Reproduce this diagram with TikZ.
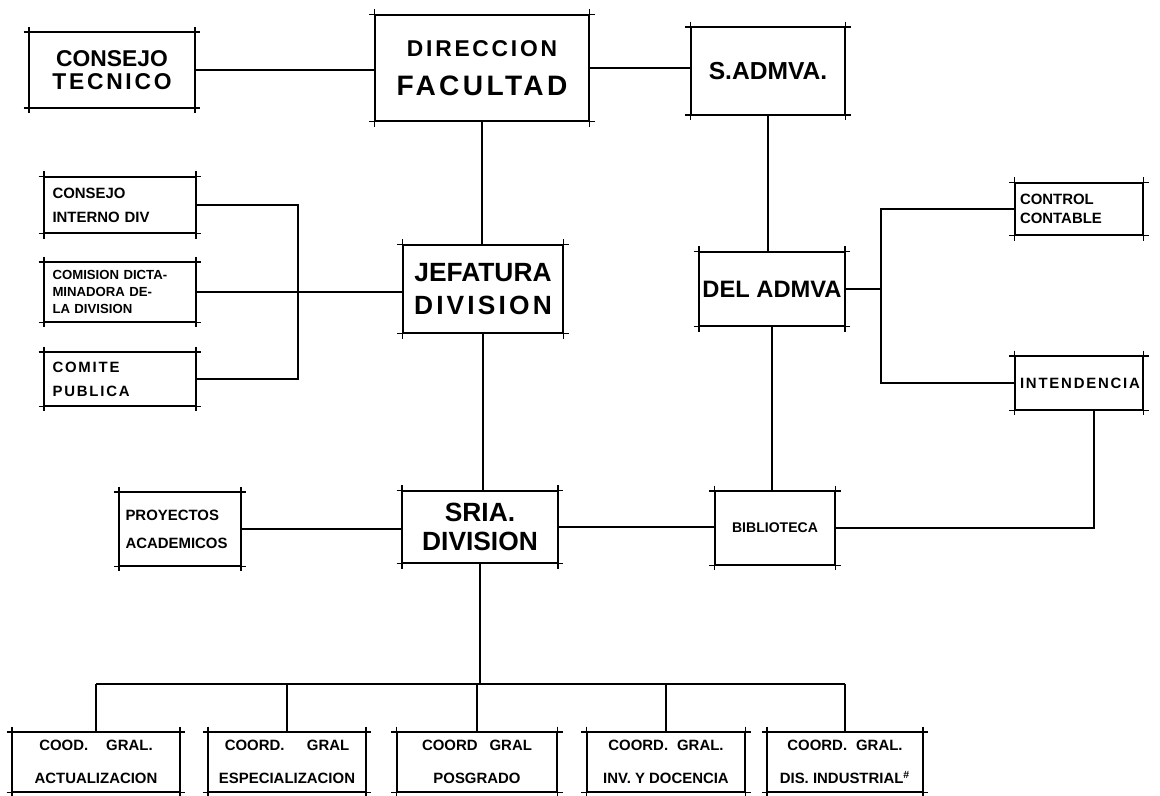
\documentclass[tikz,border=0pt]{standalone}
\usepackage{fontspec}
\setmainfont{Liberation Sans}
\newfontfamily\lett[LetterSpace=12]{Liberation Sans}
\newcommand{\lsp}[1]{{\lett\bfseries #1}}
\usetikzlibrary{calc}

\begin{document}
\begin{tikzpicture}[x=0.02cm, y=-0.02cm, line width=0.8pt,
    box/.style={draw, inner sep=0pt, align=center, font=\bfseries},
    leftbox/.style={draw, inner ysep=0pt, inner xsep=0.16cm, text width=2.7cm, align=left,
        font=\bfseries\fontsize{8.5}{13.5}\selectfont},
    lowbox/.style={draw, inner sep=0pt, align=center, minimum height=1.18cm,
        font=\bfseries\fontsize{8.5}{19}\selectfont},
    overrun/.style={shorten <=-3pt, shorten >=-3pt}]
    \useasboundingbox (0,0) rectangle (1160,795);

    % Top row
    \node[box, minimum width=3.3cm, minimum height=1.5cm, font=\bfseries\fontsize{13}{13.5}\selectfont]
        (ct) at (112,70) {CONSEJO\\\lsp{TECNICO}};
    \node[box, minimum width=4.28cm, minimum height=2.12cm]
        (dir) at (482,68) {\fontsize{13}{15}\selectfont \lsp{DIRECCION}\\[10pt]\fontsize{16}{18}\selectfont \lsp{FACULTAD}};
    \node[box, minimum width=3.08cm, minimum height=1.74cm, font=\bfseries\fontsize{14}{16}\selectfont]
        (sadm) at (768,71) {S.ADMVA.};

    % Left column
    \node[leftbox, minimum height=1.12cm] (cid) at (120,205) {CONSEJO\\INTERNO DIV};
    \node[leftbox, minimum height=1.18cm, font=\bfseries\fontsize{7.5}{9.5}\selectfont]
        (com) at (120,292) {COMISION DICTA-\\MINADORA DE-\\LA DIVISION};
    \node[leftbox, minimum height=1.06cm] (cpub) at (120,379) {\lsp{COMITE}\\\lsp{PUBLICA}};

    % Middle column
    \node[box, minimum width=3.2cm, minimum height=1.76cm, font=\bfseries\fontsize{15}{18.5}\selectfont]
        (jef) at (483,289) {JEFATURA\\\lsp{DIVISION}};
    \node[box, minimum width=3.1cm, minimum height=1.44cm, font=\bfseries\fontsize{15}{16.5}\selectfont]
        (sria) at (480,527) {SRIA.\\DIVISION};
    \node[box, minimum width=2.42cm, minimum height=1.46cm, inner xsep=0.12cm, text width=2.18cm, align=left,
        font=\bfseries\fontsize{8.5}{16}\selectfont]
        (proy) at (180,529) {PROYECTOS\\ACADEMICOS};

    % Right column
    \node[box, minimum width=2.9cm, minimum height=1.48cm, font=\bfseries\fontsize{13.5}{16}\selectfont]
        (deladm) at (772,289) {DEL ADMVA};
    \node[box, minimum width=2.4cm, minimum height=1.46cm, font=\bfseries\fontsize{8}{10}\selectfont]
        (bib) at (775,528) {BIBLIOTECA};
    \node[box, minimum height=1.04cm, inner xsep=0.1cm, text width=2.36cm, align=left,
        font=\bfseries\fontsize{8.5}{10.8}\selectfont]
        (cc) at (1079,209) {CONTROL\\CONTABLE};
    \node[box, minimum height=1.06cm, inner xsep=0.1cm, text width=2.36cm, align=left,
        font=\bfseries\fontsize{8.5}{10.8}\selectfont]
        (int) at (1079,383) {\lsp{INTENDENCIA}};

    % Bottom row
    \node[lowbox, minimum width=3.34cm] (b1) at (96,762) {COOD.\hspace{1.2em}GRAL.\\ACTUALIZACION};
    \node[lowbox, minimum width=3.14cm] (b2) at (287,762) {COORD.\hspace{1.5em}GRAL\\ESPECIALIZACION};
    \node[lowbox, minimum width=3.2cm] (b3) at (477,762) {COORD\hspace{0.8em}GRAL\\POSGRADO};
    \node[lowbox, minimum width=3.16cm] (b4) at (666,762) {COORD.\hspace{0.6em}GRAL.\\INV.\ Y DOCENCIA};
    \node[lowbox, minimum width=3.1cm] (b5) at (845,762) {COORD.\hspace{0.6em}GRAL.\\DIS.\ INDUSTRIAL\textsuperscript{\#}};

    % Drafted corners
    \foreach \n in {ct,dir,sadm,cid,com,cpub,jef,sria,proy,deladm,bib,cc,int,b1,b2,b3,b4,b5} {
        \draw[overrun] (\n.north west) -- (\n.north east);
        \draw[overrun] (\n.south west) -- (\n.south east);
        \draw[overrun] (\n.north west) -- (\n.south west);
        \draw[overrun] (\n.north east) -- (\n.south east);
    }

    % Bus points
    \coordinate (lbus) at (298,0);
    \coordinate (rbus) at (881,0);
    \coordinate (bus) at (0,684);
    \coordinate (ibot) at (1094,0);

    % Connectors
    \draw (ct.east) -- (ct.east -| dir.west);
    \draw (dir.east) -- (dir.east -| sadm.west);
    \draw (dir.south) -- (dir.south |- jef.north);
    \draw (jef.south) -- (jef.south |- sria.north);
    \draw (sadm.south) -- (sadm.south |- deladm.north);
    \draw (deladm.south) -- (deladm.south |- bib.north);

    \draw (cid.east) -- (cid.east -| lbus) -- (cpub.east -| lbus) -- (cpub.east);
    \draw (com.east) -- (com.east -| jef.west);

    \draw (deladm.east) -- (deladm.east -| rbus);
    \draw (cc.west) -- (cc.west -| rbus) -- (int.west -| rbus) -- (int.west);

    \draw (proy.east) -- (proy.east -| sria.west);
    \draw (sria.east) -- (sria.east -| bib.west);
    \draw (bib.east) -- (bib.east -| ibot) -- (int.south -| ibot);

    \draw (sria.south) -- (sria.south |- bus);
    \draw (b1.north |- bus) -- (b5.north |- bus);
    \foreach \n in {b1,b2,b3,b4,b5}
        \draw (\n.north |- bus) -- (\n.north);
\end{tikzpicture}
\end{document}
